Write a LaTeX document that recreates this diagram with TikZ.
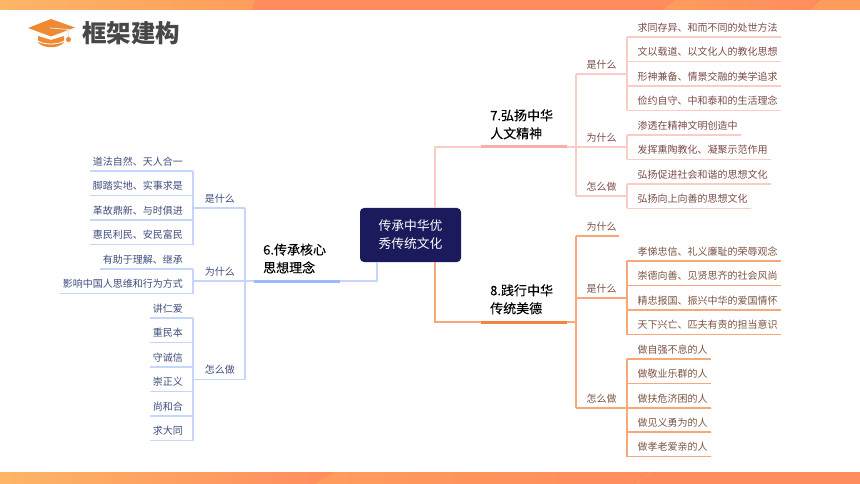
\documentclass[tikz,border=0pt]{standalone}
\usepackage{fontspec}
\setmainfont{Noto Sans CJK SC}
\newfontfamily\topicfont[FakeBold=0.15]{Noto Sans CJK SC}
\usepackage{xcolor}
\usetikzlibrary{positioning}
\definecolor{bandleft}{HTML}{FDB566}
\definecolor{bandmid}{HTML}{FF9C5C}
\definecolor{bandright}{HTML}{FF8C5E}
\definecolor{navy}{HTML}{1A1A5C}
\definecolor{hatorange}{HTML}{EE8A33}
\definecolor{blueline}{HTML}{C6D6FB}
\definecolor{bluebar}{HTML}{9DB9F8}
\definecolor{bluetext}{HTML}{3F4C7C}
\definecolor{pinkline}{HTML}{FBCBC6}
\definecolor{pinkbar}{HTML}{F6AFA9}
\definecolor{pinktext}{HTML}{7A4B47}
\definecolor{orangeline}{HTML}{F8A878}
\definecolor{orangebar}{HTML}{F4833F}
\definecolor{orangetext}{HTML}{7C5342}
\tikzset{
leftitem/.style={anchor=south east, text width=#1, inner xsep=0pt, inner ysep=3.5pt, align=right, text height=8pt, text depth=2pt, font=\fontsize{10}{12}\selectfont, text=bluetext, execute at end node={\hspace*{10pt}}},
rightitem/.style={anchor=south west, text width=#1, inner xsep=0pt, inner ysep=3.5pt, align=left, text height=8pt, text depth=2pt, font=\fontsize{10}{12}\selectfont, execute at begin node={\hspace*{10.5pt}}},
topicnode/.style={text width=68pt, inner xsep=9pt, inner ysep=7.5pt, align=left, anchor=south west, font=\topicfont\fontsize{13}{18}\selectfont},
blueedge/.style={draw=blueline, line width=1.1pt},
pinkedge/.style={draw=pinkline, line width=1.1pt},
orangeedge/.style={draw=orangeline, line width=1.1pt},
}
\begin{document}
\begin{tikzpicture}[x=1pt, y=-1pt]
\useasboundingbox (0,0) rectangle (860,484);
% bands
\shade[left color=bandleft, right color=bandmid] (0,0) rectangle (260,10);
\fill[bandright] (252,10) -- (255,0) -- (676,0) -- (664,10) -- cycle;
\shade[left color=bandmid, right color=bandright] (664,10) -- (676,0) -- (822,0) -- (810,10) -- cycle;
\fill[bandmid] (810,10) -- (822,0) -- (860,0) -- (860,10) -- cycle;
\shade[left color=bandleft, right color=bandright] (0,472) rectangle (335,484);
\shade[left color=bandmid, right color=bandright] (315,484) -- (335,472) -- (650,472) -- (637,484) -- cycle;
\fill[bandright] (637,484) -- (650,472) -- (860,472) -- (860,484) -- cycle;
% hat
\fill[hatorange] (38,36) -- (51,40) -- (64,36) -- (64,42) .. controls (60,49) and (42,49) .. (38,42) -- cycle;
\draw[white, line width=0.8pt] (38,41) .. controls (44,45) and (58,45) .. (64,41);
\fill[hatorange] (28,28) -- (51,19) -- (75,27.5) -- (51,36.5) -- cycle;
\draw[white!80!gray, line width=0.8pt] (50,28) -- (68.5,29.5) -- (68.5,37);
\fill[hatorange] (68.5,39.5) circle (2.6);
\node[anchor=west, inner sep=0pt, font=\fontsize{24.5}{26}\selectfont\bfseries, text=black!72] (title) at (82,33) {框架建构};
% center
\node[fill=navy, rounded corners=4pt, minimum width=101pt, minimum height=54pt, inner sep=0pt, align=center, text=white, font=\fontsize{12.8}{18}\selectfont] (root) at (410.5,235) {传承中华优\\秀传统文化};
\coordinate (root6) at (377,262);
\coordinate (root7) at (435,208);
\coordinate (root8) at (435,262);
% topics
\node[topicnode] (topic6) at (254,281) {6.传承核心\\思想理念};
\node[topicnode] (topic7) at (481,147) {7.弘扬中华\\人文精神};
\node[topicnode] (topic8) at (481,322) {8.践行中华\\传统美德};
\draw[blueedge] (topic6.south east) -| (root6);
\draw[pinkedge] (topic7.south west) -| (root7);
\draw[orangeedge] (topic8.south west) -| (root8);
\draw[draw=bluebar, line width=3pt] (topic6.south west) -- (topic6.south east);
\draw[draw=pinkbar, line width=3pt] (topic7.south west) -- (topic7.south east);
\draw[draw=orangebar, line width=3pt] (topic8.south west) -- (topic8.south east);
% left side
\node[leftitem=52pt] (what6) at (245,208) {是什么};
\node[leftitem=52pt] (why6) at (245,281) {为什么};
\node[leftitem=52pt] (how6) at (245,379.5) {怎么做};
\node[leftitem=103pt] (what6a) at (193,171) {道法自然、天人合一};
\node[leftitem=103pt] (what6b) at (193,195.5) {脚踏实地、实事求是};
\node[leftitem=103pt] (what6c) at (193,220) {革故鼎新、与时俱进};
\node[leftitem=103pt] (what6d) at (193,244.5) {惠民利民、安民富民};
\node[leftitem=93pt] (why6a) at (193,269) {有助于理解、继承};
\node[leftitem=133pt] (why6b) at (193,293.5) {影响中国人思维和行为方式};
\node[leftitem=43pt] (how6a) at (193,318) {讲仁爱};
\node[leftitem=43pt] (how6b) at (193,342.5) {重民本};
\node[leftitem=43pt] (how6c) at (193,367) {守诚信};
\node[leftitem=43pt] (how6d) at (193,391.5) {崇正义};
\node[leftitem=43pt] (how6e) at (193,416) {尚和合};
\node[leftitem=43pt] (how6f) at (193,440.5) {求大同};
\draw[blueedge] (what6.south west) -- (what6.south east);
\draw[blueedge] (why6.south west) -- (why6.south east) -- (topic6.south west);
\draw[blueedge] (how6.south west) -- (how6.south east);
\draw[blueedge] (what6.south east) -- (how6.south east);
\draw[blueedge] (what6a.south west) -- (what6a.south east);
\draw[blueedge] (what6b.south west) -- (what6b.south east);
\draw[blueedge] (what6c.south west) -- (what6c.south east);
\draw[blueedge] (what6d.south west) -- (what6d.south east);
\draw[blueedge] (what6a.south east) -- (what6d.south east);
\draw[blueedge] (why6a.south west) -- (why6a.south east);
\draw[blueedge] (why6b.south west) -- (why6b.south east);
\draw[blueedge] (why6a.south east) -- (why6b.south east);
\draw[blueedge] (how6a.south west) -- (how6a.south east);
\draw[blueedge] (how6b.south west) -- (how6b.south east);
\draw[blueedge] (how6c.south west) -- (how6c.south east);
\draw[blueedge] (how6d.south west) -- (how6d.south east);
\draw[blueedge] (how6e.south west) -- (how6e.south east);
\draw[blueedge] (how6f.south west) -- (how6f.south east);
\draw[blueedge] (how6a.south east) -- (how6f.south east);
% right side, upper
\node[rightitem=51pt, text=pinktext] (what7) at (576,74) {是什么};
\node[rightitem=51pt, text=pinktext] (why7) at (576,147) {为什么};
\node[rightitem=51pt, text=pinktext] (how7) at (576,196) {怎么做};
\node[rightitem=154pt, text=pinktext] (what7a) at (627,37) {求同存异、和而不同的处世方法};
\node[rightitem=154pt, text=pinktext] (what7b) at (627,61.5) {文以载道、以文化人的教化思想};
\node[rightitem=154pt, text=pinktext] (what7c) at (627,86) {形神兼备、情景交融的美学追求};
\node[rightitem=154pt, text=pinktext] (what7d) at (627,110.5) {俭约自守、中和泰和的生活理念};
\node[rightitem=114pt, text=pinktext] (why7a) at (627,135) {渗透在精神文明创造中};
\node[rightitem=144pt, text=pinktext] (why7b) at (627,159.5) {发挥熏陶教化、凝聚示范作用};
\node[rightitem=144pt, text=pinktext] (how7a) at (627,184) {弘扬促进社会和谐的思想文化};
\node[rightitem=124pt, text=pinktext] (how7b) at (627,208.5) {弘扬向上向善的思想文化};
\draw[pinkedge] (topic7.south east) -- (why7.south west);
\draw[pinkedge] (what7.south west) -- (what7.south east);
\draw[pinkedge] (why7.south west) -- (why7.south east);
\draw[pinkedge] (how7.south west) -- (how7.south east);
\draw[pinkedge] (what7.south west) -- (how7.south west);
\draw[pinkedge] (what7a.south west) -- (what7a.south east);
\draw[pinkedge] (what7b.south west) -- (what7b.south east);
\draw[pinkedge] (what7c.south west) -- (what7c.south east);
\draw[pinkedge] (what7d.south west) -- (what7d.south east);
\draw[pinkedge] (what7a.south west) -- (what7d.south west);
\draw[pinkedge] (why7a.south west) -- (why7a.south east);
\draw[pinkedge] (why7b.south west) -- (why7b.south east);
\draw[pinkedge] (why7a.south west) -- (why7b.south west);
\draw[pinkedge] (how7a.south west) -- (how7a.south east);
\draw[pinkedge] (how7b.south west) -- (how7b.south east);
\draw[pinkedge] (how7a.south west) -- (how7b.south west);
% right side, lower
\node[rightitem=43pt, text=orangetext] (why8) at (576,236) {为什么};
\node[rightitem=51pt, text=orangetext] (what8) at (576,298) {是什么};
\node[rightitem=51pt, text=orangetext] (how8) at (576,408) {怎么做};
\node[rightitem=154pt, text=orangetext] (what8a) at (627,261) {孝悌忠信、礼义廉耻的荣辱观念};
\node[rightitem=154pt, text=orangetext] (what8b) at (627,285.5) {崇德向善、见贤思齐的社会风尚};
\node[rightitem=154pt, text=orangetext] (what8c) at (627,310) {精忠报国、振兴中华的爱国情怀};
\node[rightitem=154pt, text=orangetext] (what8d) at (627,334.5) {天下兴亡、匹夫有责的担当意识};
\node[rightitem=84pt, text=orangetext] (how8a) at (627,359) {做自强不息的人};
\node[rightitem=84pt, text=orangetext] (how8b) at (627,383.5) {做敬业乐群的人};
\node[rightitem=84pt, text=orangetext] (how8c) at (627,408) {做扶危济困的人};
\node[rightitem=84pt, text=orangetext] (how8d) at (627,432) {做见义勇为的人};
\node[rightitem=84pt, text=orangetext] (how8e) at (627,456.5) {做孝老爱亲的人};
\coordinate (joint8) at (576,322);
\draw[orangeedge] (topic8.south east) -- (joint8);
\draw[orangeedge] (why8.south west) -- (why8.south east);
\draw[orangeedge] (what8.south west) -- (what8.south east);
\draw[orangeedge] (how8.south west) -- (how8.south east);
\draw[orangeedge] (why8.south west) -- (how8.south west);
\draw[orangeedge] (what8a.south west) -- (what8a.south east);
\draw[orangeedge] (what8b.south west) -- (what8b.south east);
\draw[orangeedge] (what8c.south west) -- (what8c.south east);
\draw[orangeedge] (what8d.south west) -- (what8d.south east);
\draw[orangeedge] (what8a.south west) -- (what8d.south west);
\draw[orangeedge] (how8a.south west) -- (how8a.south east);
\draw[orangeedge] (how8b.south west) -- (how8b.south east);
\draw[orangeedge] (how8c.south west) -- (how8c.south east);
\draw[orangeedge] (how8d.south west) -- (how8d.south east);
\draw[orangeedge] (how8e.south west) -- (how8e.south east);
\draw[orangeedge] (how8a.south west) -- (how8e.south west);
\end{tikzpicture}
\end{document}
